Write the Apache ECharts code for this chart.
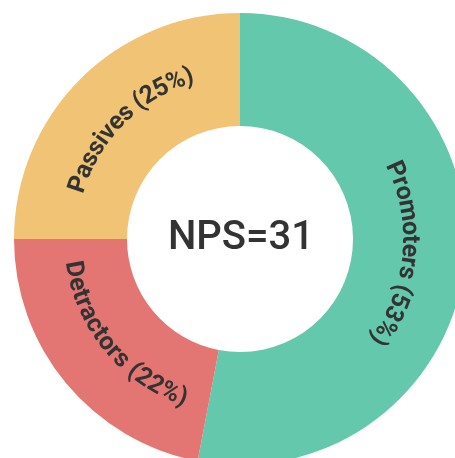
<!DOCTYPE html>
<html>
<head>
<meta charset="utf-8">
<script src="https://cdn.jsdelivr.net/npm/echarts@6/dist/echarts.min.js"></script>
<style>
html,body{margin:0;padding:0;background:#fff;}
#c{width:455px;height:458px;}
</style>
</head>
<body>
<div id="c"></div>
<script>
const categories = ['Promoters', 'Detractors', 'Passives'];
const values = [53, 22, 25];
const colors = ['#64c8ad', '#e37673', '#f0c474'];
const centerLabel = 'NPS=31';

const LABEL_FONT = 'bold 25px Roboto';
const LABEL_COLOR = '#333333';
const CX = 240, CY = 239, R0 = 113, R1 = 226, START = 90;

const chart = echarts.init(document.getElementById('c'), null, {renderer: 'canvas'});
chart.setOption({
  animation: false,
  backgroundColor: '#ffffff',
  series: [{
    type: 'pie',
    center: [CX, CY],
    radius: [R0, R1],
    startAngle: START,
    clockwise: true,
    label: {show: false},
    labelLine: {show: false},
    emphasis: {disabled: true},
    data: categories.map((n, i) => ({name: n, value: values[i], itemStyle: {color: colors[i]}}))
  }]
});

// curved labels, angles derived from the data the same way the pie lays out
const ctx = document.createElement('canvas').getContext('2d');
ctx.font = LABEL_FONT;
const total = values.reduce((a, b) => a + b, 0);
const els = [];
let acc = -START * Math.PI / 180;
for (let i = 0; i < categories.length; i++) {
  const sa = acc;
  const ea = acc + values[i] / total * Math.PI * 2;
  acc = ea;
  const txt = categories[i] + ' (' + values[i] + '%)';
  const mid = (sa + ea) / 2;
  const r = (R0 + R1) / 2;
  const flip = Math.sin(mid) > 0.3;
  const chars = Array.from(txt);
  const widths = chars.map(ch => ctx.measureText(ch).width);
  const tw = widths.reduce((a, b) => a + b, 0);
  const span = tw / r;
  let cum = 0;
  chars.forEach((ch, k) => {
    const off = (cum + widths[k] / 2) / r;
    cum += widths[k];
    let a, rot;
    if (!flip) {
      a = mid - span / 2 + off;
      rot = -(a + Math.PI / 2);
    } else {
      a = mid + span / 2 - off;
      rot = Math.PI / 2 - a;
    }
    els.push({
      type: 'text',
      x: CX + r * Math.cos(a),
      y: CY + r * Math.sin(a),
      rotation: rot,
      silent: true,
      z: 100,
      style: {
        text: ch, font: LABEL_FONT, fill: LABEL_COLOR,
        align: 'center', verticalAlign: 'middle',
        textAlign: 'center', textVerticalAlign: 'middle'
      }
    });
  });
}
els.push({
  type: 'text', x: CX + 1, y: CY, silent: true, z: 100,
  style: {
    text: centerLabel, font: '500 40px Roboto', fill: '#333333',
    align: 'center', verticalAlign: 'middle',
    textAlign: 'center', textVerticalAlign: 'middle'
  }
});
chart.setOption({graphic: {elements: els}});
</script>
</body>
</html>
